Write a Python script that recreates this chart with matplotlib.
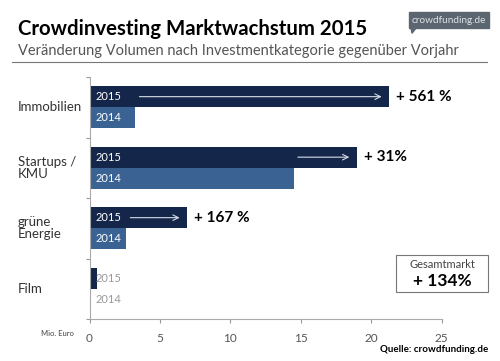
import matplotlib.pyplot as plt
from matplotlib.patches import Rectangle, Polygon
import matplotlib.transforms as mtransforms
import numpy as np

# values in Mio. Euro
categories = ["Immobilien", "Startups /\nKMU", "grüne\nEnergie", "Film"]
vol_2015 = [21.3, 19.0, 6.95, 0.5]
vol_2014 = [3.25, 14.5, 2.6, 0.02]
growth = ["+ 561 %", "+ 31%", "+ 167 %", None]
xticks = [0, 5, 10, 15, 20, 25]

dark = "#14264a"
light = "#3a6394"
grey = "#555555"

plt.rcParams['font.family'] = ['Lato', 'DejaVu Sans']

fig = plt.figure(figsize=(5, 3.61), dpi=100)
ax = fig.add_axes([0.179, 0.1163, 0.704, 0.6704])

y = np.arange(len(categories))[::-1]
h = 0.35
ax.barh(y + h / 2, vol_2015, height=h, color=dark)
ax.barh(y - h / 2, vol_2014, height=h, color=light)

for i, yy in enumerate(y):
    txt_col = "white" if vol_2015[i] > 2 else "#999999"
    ax.text(0.45, yy + h / 2, "2015", color=txt_col, fontsize=8, va="center")
    ax.text(0.45, yy - h / 2, "2014", color=txt_col, fontsize=8, va="center")
    if growth[i]:
        # arrow from last year's value to this year's
        ax.annotate("", xy=(vol_2015[i] - 0.35, yy + h / 2),
                    xytext=(vol_2014[i] + 0.1, yy + h / 2),
                    arrowprops=dict(arrowstyle="->", color="#d8dde6", lw=0.8))
        ax.text(vol_2015[i] + 0.5, yy + h / 2, growth[i], fontsize=11,
                fontweight="bold", color="black", va="center")

ax.set_xlim(0, 25)
ax.set_ylim(-0.5, 3.5)
ax.set_xticks(xticks)
ax.set_xticklabels([str(t) for t in xticks], color=grey, fontsize=8.5)
ax.set_yticks(np.arange(-0.5, 3.6, 1))
ax.set_yticklabels([])
ax.tick_params(axis="x", length=3, color="#999999", pad=7)
ax.tick_params(axis="y", length=3, color="#999999")
for s in ["top", "right"]:
    ax.spines[s].set_visible(False)
for s in ["left", "bottom"]:
    ax.spines[s].set_color("#aaaaaa")
    ax.spines[s].set_linewidth(0.8)

trans = mtransforms.blended_transform_factory(fig.transFigure, ax.transData)
for i, yy in enumerate(y):
    ax.text(0.036, yy, categories[i], fontsize=9.5, color="#333333",
            va="center", ha="left", linespacing=1.0, transform=trans)

fig.text(0.036, 0.903, "Crowdinvesting Marktwachstum 2015", fontsize=14.7,
         fontweight="bold", color="black", va="baseline")
fig.text(0.036, 0.848, "Veränderung Volumen nach Investmentkategorie gegenüber Vorjahr",
         fontsize=10.5, color="#555555", va="baseline")
fig.add_artist(plt.Line2D([0.024, 0.974], [0.828, 0.828], color="#777777", lw=0.8))

# logo box
fig.add_artist(Rectangle((0.818, 0.922), 0.16, 0.045, transform=fig.transFigure,
                         color="#5c6670"))
fig.add_artist(Polygon([[0.822, 0.922], [0.832, 0.922], [0.824, 0.908]],
                       transform=fig.transFigure, color="#5c6670"))
fig.text(0.898, 0.944, "crowdfunding.de", fontsize=7.2, color="#dde2e6",
         ha="center", va="center")

# total market box
fig.add_artist(Rectangle((0.792, 0.191), 0.184, 0.104, transform=fig.transFigure,
                         fill=False, edgecolor="#777777", lw=0.8))
fig.text(0.884, 0.268, "Gesamtmarkt", fontsize=8, color="#444444", ha="center", va="center")
fig.text(0.884, 0.222, "+ 134%", fontsize=12.5, fontweight="bold", color="black",
         ha="center", va="center")

fig.text(0.148, 0.077, "Mio. Euro", fontsize=5.5, color="#444444", ha="right", va="center")
fig.text(0.976, 0.031, "Quelle: crowdfunding.de", fontsize=7, fontweight="bold",
         color="black", ha="right", va="center")

fig.savefig("out.png", dpi=100)
